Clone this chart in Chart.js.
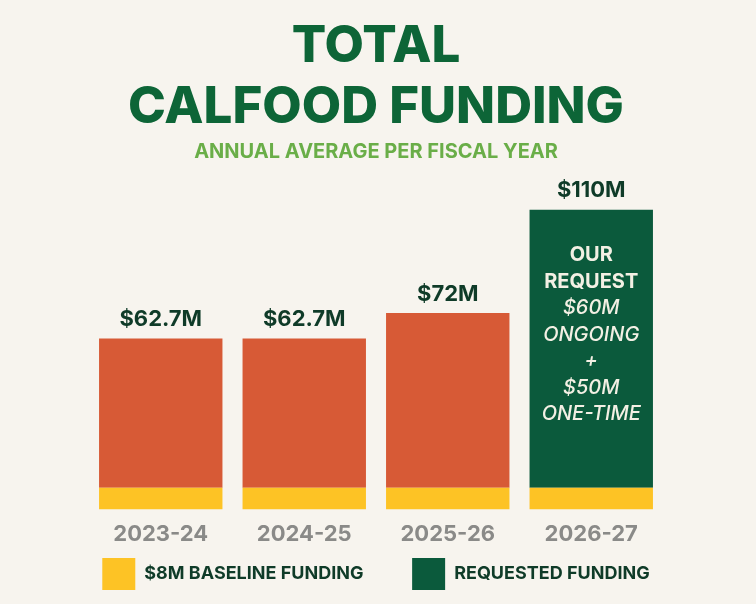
<!DOCTYPE html>
<html>
<head>
<meta charset="utf-8">
<script src="https://cdn.jsdelivr.net/npm/chart.js@4/dist/chart.umd.min.js"></script>
<style>
  html, body { margin: 0; padding: 0; background: #F7F4EE; }
  #wrap { width: 756px; height: 604px; position: relative; }
</style>
</head>
<body>
<div id="wrap"><canvas id="c" width="756" height="604"></canvas></div>
<script>
// ---- data ----
const categories = ['2023-24', '2024-25', '2025-26', '2026-27'];
const baselineFunding = [8, 8, 8, 8];
const otherFunding = [54.7, 54.7, 64, null];
const requestedFunding = [null, null, null, 102];
const totals = [62.7, 62.7, 72, 110];
const totalLabels = ['$62.7M', '$62.7M', '$72M', '$110M'];
const requestLinesBold = ['OUR', 'REQUEST'];
const requestLinesItalic = ['$60M', 'ONGOING', '+', '$50M', 'ONE-TIME'];

const DARK = '#0F3B28';
const FONT = 'Inter, "Open Sans", Lato, sans-serif';

const labelPlugin = {
  id: 'labels',
  afterDatasetsDraw(chart) {
    const ctx = chart.ctx;
    const x = chart.scales.x, y = chart.scales.y;
    ctx.save();
    ctx.textAlign = 'center';
    ctx.textBaseline = 'alphabetic';
    ctx.fillStyle = DARK;
    ctx.font = 'bold 22px ' + FONT;
    totals.forEach((t, i) => {
      ctx.fillText(totalLabels[i], x.getPixelForValue(i), y.getPixelForValue(t) - 12);
    });
    // text inside the request bar
    const i = 3;
    const cx = x.getPixelForValue(i);
    const top = y.getPixelForValue(totals[i]);
    ctx.fillStyle = '#F3F0E4';
    let yy = top + 52;
    ctx.font = 'bold 20px ' + FONT;
    requestLinesBold.forEach(s => { ctx.fillText(s, cx, yy); yy += 26.5; });
    ctx.font = 'italic 500 20px ' + FONT;
    requestLinesItalic.forEach(s => { ctx.fillText(s, cx, yy); yy += 26.5; });
    ctx.restore();
  }
};

new Chart(document.getElementById('c'), {
  type: 'bar',
  data: {
    labels: categories,
    datasets: [
      { label: '$8M BASELINE FUNDING', data: baselineFunding, backgroundColor: '#FDC325', stack: 's' },
      { label: 'CURRENT FUNDING', data: otherFunding, backgroundColor: '#D75A36', stack: 's' },
      { label: 'REQUESTED FUNDING', data: requestedFunding, backgroundColor: '#0B5A3C', stack: 's' }
    ]
  },
  options: {
    responsive: false,
    animation: false,
    layout: { padding: { left: 89, right: 93, top: 0, bottom: 4 } },
    datasets: { bar: { barPercentage: 0.86, categoryPercentage: 1, borderWidth: 0 } },
    scales: {
      x: {
        stacked: true,
        grid: { display: false },
        border: { display: false },
        ticks: { color: '#8A8A88', font: { family: FONT, size: 22, weight: 'bold' }, padding: 4 }
      },
      y: {
        stacked: true,
        display: false,
        min: 0,
        max: 110
      }
    },
    plugins: {
      title: {
        display: true,
        text: ['TOTAL', 'CALFOOD FUNDING'],
        color: '#0D6537',
        font: { family: FONT, size: 51, weight: 800, lineHeight: 1.2 },
        padding: { top: 16, bottom: 0 }
      },
      subtitle: {
        display: true,
        text: 'ANNUAL AVERAGE PER FISCAL YEAR',
        color: '#6AAE48',
        font: { family: FONT, size: 20, weight: 'bold' },
        padding: { top: 2, bottom: 45 }
      },
      legend: {
        position: 'bottom',
        labels: {
          filter: item => item.datasetIndex !== 1,
          generateLabels(chart) {
            const items = Chart.defaults.plugins.legend.labels.generateLabels(chart);
            items.forEach(it => { if (it.datasetIndex === 0) it.text = it.text + '          '; });
            return items;
          },
          boxWidth: 33,
          boxHeight: 32,
          padding: 6,
          color: DARK,
          font: { family: FONT, size: 18, weight: 'bold' }
        }
      },
      tooltip: { enabled: false }
    }
  },
  plugins: [labelPlugin]
});
</script>
</body>
</html>
